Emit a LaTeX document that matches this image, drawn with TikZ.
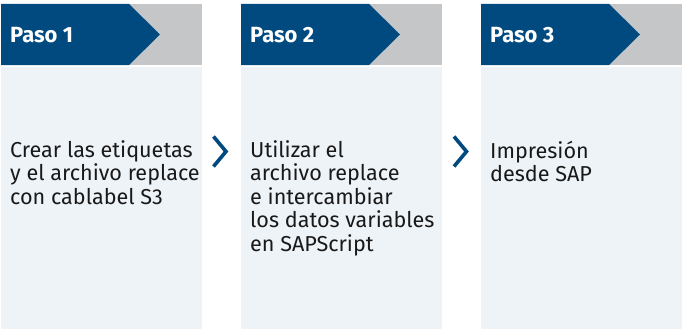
\documentclass[tikz,border=0pt]{standalone}
\usepackage{fontspec}
\setmainfont{Fira Sans}
\definecolor{stepblue}{RGB}{0,74,128}
\definecolor{stepgray}{RGB}{197,198,200}
\definecolor{steplight}{RGB}{238,243,247}
\definecolor{steptext}{RGB}{25,25,25}
\tikzset{
  headtext/.style={anchor=base west, inner sep=0pt, text=white, font=\bfseries\fontsize{22}{26}\selectfont},
  bodytext/.style={anchor=north west, inner sep=0pt, align=left, text=steptext, font=\fontsize{21.6}{23.4}\selectfont},
  chev/.style={draw=stepblue, line width=3.6pt, miter limit=10}
}
\begin{document}
\begin{tikzpicture}[x=1pt,y=-1pt]
\useasboundingbox (0,0) rectangle (682,329);
\foreach \i/\xo in {1/1,2/241,3/481}{
  \fill[stepgray] (\xo,4) rectangle ++(201,61);
  \fill[stepblue] (\xo,4) -- ++(128,0) -- ++(31,30.5) -- ++(-31,30.5) -- (\xo,65) -- cycle;
  \fill[steplight] (\xo,67) rectangle ++(201,262);
  \node[headtext] (h\i) at (\xo+9,43) {Paso \i};
}
\node[bodytext] (b1) at (10,140.5) {Crear las etiquetas\\y el archivo replace\\con cablabel S3};
\node[bodytext] (b2) at (250,140.5) {Utilizar el\\archivo replace\\e intercambiar\\los datos variables\\en SAPScript};
\node[bodytext] (b3) at (490,140.5) {Impresión\\desde SAP};
\draw[chev] (213.5,136.5) -- (226,151.5) -- (213.5,166.5);
\draw[chev] (454,136.5) -- (466.5,151.5) -- (454,166.5);
\end{tikzpicture}
\end{document}
